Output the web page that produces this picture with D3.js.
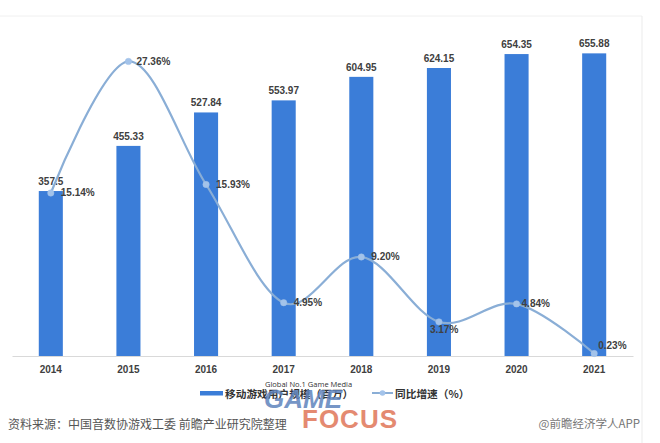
<!DOCTYPE html>
<html>
<head>
<meta charset="utf-8">
<script src="https://cdn.jsdelivr.net/npm/d3@7/dist/d3.min.js"></script>
<style>
  html, body { margin: 0; padding: 0; background: #fff; }
  svg { display: block; }
</style>
</head>
<body>
<svg id="chart" width="660" height="443"></svg>
<script>
// ---- data ----
const years = ["2014", "2015", "2016", "2017", "2018", "2019", "2020", "2021"];
const users = [357.5, 455.33, 527.84, 553.97, 604.95, 624.15, 654.35, 655.88];
const growth = [15.14, 27.36, 15.93, 4.95, 9.20, 3.17, 4.84, 0.23];
const userLabels = ["357.5", "455.33", "527.84", "553.97", "604.95", "624.15", "654.35", "655.88"];
const growthLabels = ["15.14%", "27.36%", "15.93%", "4.95%", "9.20%", "3.17%", "4.84%", "0.23%"];
const legendNames = ["移动游戏用户规模（百万）", "同比增速（%）"];
const sourceText = "资料来源：中国音数协游戏工委 前瞻产业研究院整理";
const creditText = "@前瞻经济学人APP";

// ---- layout ----
const svg = d3.select("#chart");
const W = 660, H = 443;
const plot = { left: 12, right: 633, top: 33, bottom: 356 };
const numFont = "'Liberation Sans', Arial, sans-serif";
const cjkFont = "'Noto Sans CJK SC', 'Noto Sans', sans-serif";
const barColor = "#3b7dd8";
const lineColor = "#8aaed6";
const markColor = "#a3c3ea";
const textColor = "#404040";

const x = d3.scaleBand().domain(years).range([plot.left, plot.right]).paddingInner(0.69).paddingOuter(0.345);
const yBar = d3.scaleLinear().domain([0, 700]).range([plot.bottom, plot.top]);
const yLine = d3.scaleLinear().domain([0, 30]).range([plot.bottom, plot.top]);
const cx = d => x(d) + x.bandwidth() / 2;

// faint frame
svg.append("line").attr("x1", 0).attr("x2", 642).attr("y1", 16).attr("y2", 16)
  .attr("stroke", "#f0f0f0").attr("stroke-width", 1);
svg.append("line").attr("x1", 642).attr("x2", 642).attr("y1", 16).attr("y2", H)
  .attr("stroke", "#ebebeb").attr("stroke-width", 1);

// bars
svg.append("g").selectAll("rect").data(years).join("rect")
  .attr("x", d => x(d))
  .attr("width", x.bandwidth())
  .attr("y", (d, i) => yBar(users[i]))
  .attr("height", (d, i) => yBar(0) - yBar(users[i]))
  .attr("fill", barColor);

// x axis
const xAxis = d3.axisBottom(x).tickSize(0).tickPadding(10);
const gx = svg.append("g").attr("transform", `translate(0,${plot.bottom})`).call(xAxis);
gx.select(".domain").attr("stroke", "#d9d9d9").attr("stroke-width", 1);
gx.selectAll("text").attr("font-family", numFont).attr("font-size", 10)
  .attr("font-weight", "bold").attr("fill", textColor);

// bar labels
svg.append("g").selectAll("text").data(years).join("text")
  .attr("x", d => cx(d))
  .attr("y", (d, i) => yBar(users[i]) - 6)
  .attr("text-anchor", "middle")
  .attr("font-family", numFont).attr("font-size", 10).attr("font-weight", "bold")
  .attr("fill", textColor)
  .text((d, i) => userLabels[i]);

// growth line
const line = d3.line()
  .x((d, i) => cx(years[i]))
  .y(d => yLine(d))
  .curve(d3.curveCatmullRom.alpha(0));
svg.append("path").datum(growth)
  .attr("d", line)
  .attr("fill", "none")
  .attr("stroke", lineColor)
  .attr("stroke-width", 2.2);

svg.append("g").selectAll("circle").data(growth).join("circle")
  .attr("cx", (d, i) => cx(years[i]))
  .attr("cy", d => yLine(d))
  .attr("r", 3.2)
  .attr("fill", markColor)
  .attr("stroke", "#9fbfe6").attr("stroke-width", 0.5);

// growth labels (placement rule: right of point, with a few adjustments)
const placement = { "2019": [-9, 8], "2021": [4, -8], "2020": [5, 0], "2015": [8, 0] };
svg.append("g").selectAll("text").data(years).join("text")
  .attr("x", (d, i) => cx(d) + (placement[d] ? placement[d][0] : 10))
  .attr("y", (d, i) => yLine(growth[i]) + (placement[d] ? placement[d][1] : 0))
  .attr("dominant-baseline", "central")
  .attr("font-family", numFont).attr("font-size", 10).attr("font-weight", "bold")
  .attr("fill", textColor)
  .text((d, i) => growthLabels[i]);

// legend
const lg = svg.append("g");
lg.append("rect").attr("x", 200).attr("y", 391).attr("width", 23).attr("height", 4.5).attr("fill", barColor);
lg.append("text").attr("x", 225).attr("y", 393).attr("dominant-baseline", "central")
  .attr("font-family", cjkFont).attr("font-size", 10.7).attr("font-weight", "bold")
  .attr("fill", "#333").text(legendNames[0]);
lg.append("line").attr("x1", 372).attr("x2", 393).attr("y1", 393).attr("y2", 393)
  .attr("stroke", lineColor).attr("stroke-width", 2);
lg.append("circle").attr("cx", 382.5).attr("cy", 393).attr("r", 2.8).attr("fill", markColor);
lg.append("text").attr("x", 395).attr("y", 393).attr("dominant-baseline", "central")
  .attr("font-family", cjkFont).attr("font-size", 10.7).attr("font-weight", "bold")
  .attr("fill", "#333").text(legendNames[1]);

// source & credit
svg.append("text").attr("x", 8).attr("y", 423).attr("dominant-baseline", "central")
  .attr("font-family", cjkFont).attr("font-size", 12).attr("fill", "#555")
  .text(sourceText);
svg.append("text").attr("x", 640).attr("y", 423).attr("dominant-baseline", "central")
  .attr("text-anchor", "end")
  .attr("font-family", cjkFont).attr("font-size", 11.5).attr("fill", "#777")
  .text(creditText);

// GAME FOCUS watermark logo
const logo = svg.append("g");
logo.append("text").attr("x", 265).attr("y", 387)
  .attr("font-family", "'Open Sans', sans-serif").attr("font-size", 7.5).attr("fill", "#333")
  .text("Global No.1 Game Media");
logo.append("text").attr("x", 264).attr("y", 408)
  .attr("font-family", "'Liberation Sans', Arial, sans-serif").attr("font-size", 26)
  .attr("font-weight", "bold").attr("font-style", "italic")
  .attr("fill", "#5f84bd").attr("opacity", 0.85).text("GAME");
logo.append("text").attr("x", 302).attr("y", 428)
  .attr("font-family", "'Liberation Sans', Arial, sans-serif").attr("font-size", 26)
  .attr("font-weight", "bold").attr("textLength", 95)
  .attr("fill", "#e27e62").attr("opacity", 0.9).text("FOCUS");
</script>
</body>
</html>
